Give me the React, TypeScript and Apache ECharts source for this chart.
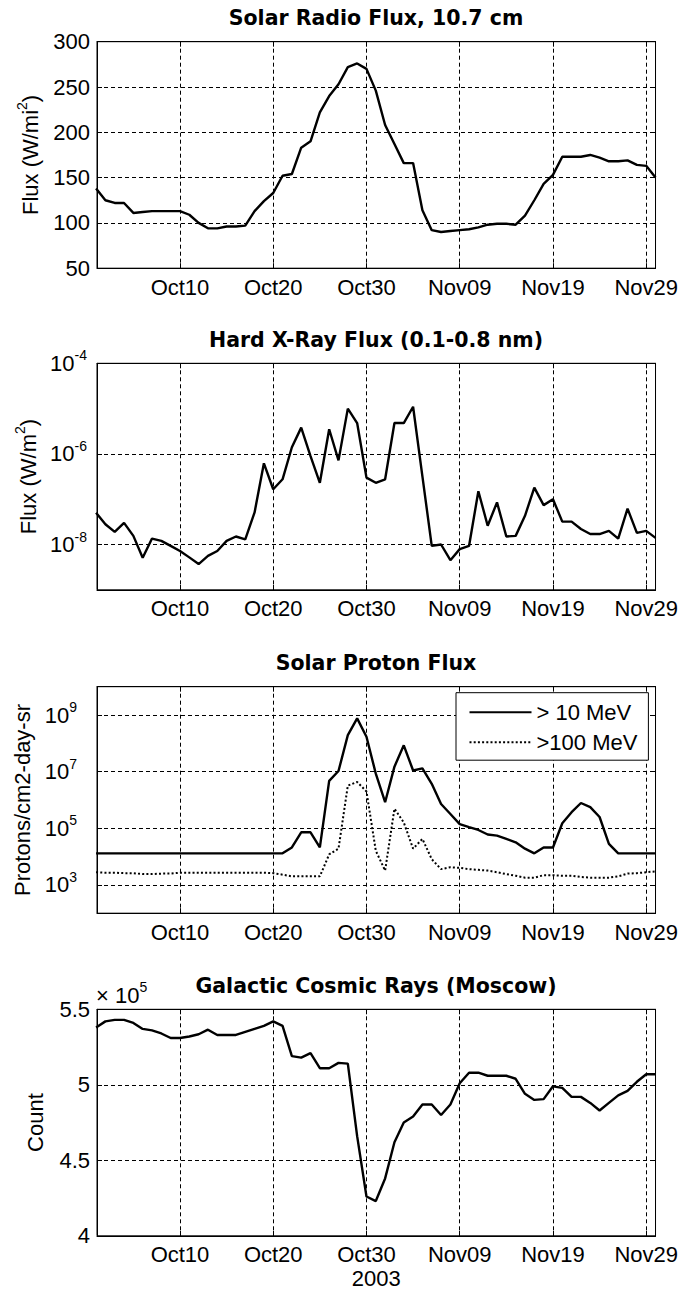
import React, { useEffect, useRef } from 'react';
import * as echarts from 'echarts';

// ---------- data ----------
const xTickValues = [10, 20, 30, 40, 50, 60];
const xTickLabels = ['Oct10', 'Oct20', 'Oct30', 'Nov09', 'Nov19', 'Nov29'];
const xAxisTitle = '2003';

const panelTitles = [
  'Solar Radio Flux, 10.7 cm',
  'Hard X-Ray Flux (0.1-0.8 nm)',
  'Solar Proton Flux',
  'Galactic Cosmic Rays (Moscow)',
];

const seriesNames = ['> 10 MeV', '>100 MeV'];

// day 1 = Oct 01 2003 ... day 61 = Nov 30 2003
const radioFlux = [
  138, 125, 122, 122, 111, 112, 113, 113, 113, 113,
  109, 100, 94, 94, 96, 96, 97, 113, 124, 133,
  152, 154, 183, 190, 222, 240, 253, 272, 276, 270,
  246, 208, 187, 166, 166, 114, 92, 90, 91, 92,
  93, 95, 98, 99, 99, 98, 108, 125, 143, 153,
  173, 173, 173, 175, 172, 168, 168, 169, 164, 163, 150,
];

const xrayFlux = [
  5.0e-8, 2.8e-8, 1.9e-8, 3.0e-8, 1.55e-8, 5.1e-9, 1.35e-8, 1.2e-8, 9.3e-9, 7.2e-9,
  5.2e-9, 3.7e-9, 5.6e-9, 7.2e-9, 1.2e-8, 1.5e-8, 1.3e-8, 5.1e-8, 6.2e-7, 1.66e-7,
  2.75e-7, 1.4e-6, 3.8e-6, 8.9e-7, 2.3e-7, 3.5e-6, 7.2e-7, 1.0e-5, 4.8e-6, 3.0e-7,
  2.3e-7, 2.75e-7, 4.8e-6, 4.8e-6, 1.1e-5, 3.2e-7, 9.3e-9, 1.0e-8, 4.5e-9, 7.9e-9,
  9.3e-9, 1.5e-7, 2.6e-8, 8.5e-8, 1.5e-8, 1.55e-8, 4.3e-8, 1.8e-7, 7.4e-8, 1.0e-7,
  3.2e-8, 3.2e-8, 2.2e-8, 1.7e-8, 1.7e-8, 2.0e-8, 1.35e-8, 6.2e-8, 1.8e-8, 2.0e-8, 1.4e-8,
];

const protonFlux10 = [
  1.3e4, 1.3e4, 1.3e4, 1.3e4, 1.3e4, 1.3e4, 1.3e4, 1.3e4, 1.3e4, 1.3e4,
  1.3e4, 1.3e4, 1.3e4, 1.3e4, 1.3e4, 1.3e4, 1.3e4, 1.3e4, 1.3e4, 1.3e4,
  1.3e4, 2.1e4, 7.2e4, 7.2e4, 2.1e4, 4.7e6, 1.05e7, 1.95e8, 7.6e8, 1.7e8,
  8.5e6, 8.3e5, 1.5e7, 8.5e7, 1.1e7, 1.3e7, 3.7e6, 7.2e5, 3.2e5, 1.4e5,
  1.1e5, 8.7e4, 6.0e4, 5.5e4, 4.2e4, 3.2e4, 1.9e4, 1.3e4, 2.1e4, 2.1e4,
  1.5e5, 3.7e5, 7.8e5, 5.6e5, 2.5e5, 2.8e4, 1.3e4, 1.3e4, 1.3e4, 1.3e4, 1.3e4,
];

const protonFlux100 = [
  2.8e3, 2.7e3, 2.7e3, 2.6e3, 2.6e3, 2.4e3, 2.4e3, 2.5e3, 2.5e3, 2.7e3,
  2.7e3, 2.7e3, 2.7e3, 2.7e3, 2.7e3, 2.7e3, 2.7e3, 2.7e3, 2.7e3, 2.6e3,
  2.3e3, 2.0e3, 2.0e3, 2.0e3, 2.0e3, 1.2e4, 1.9e4, 3.2e6, 4.3e6, 2.0e6,
  1.6e4, 3.2e3, 4.9e5, 1.6e5, 1.9e4, 4.2e4, 8.1e3, 3.6e3, 4.2e3, 4.0e3,
  3.6e3, 3.4e3, 3.2e3, 2.8e3, 2.4e3, 2.1e3, 1.8e3, 1.8e3, 2.2e3, 2.2e3,
  2.1e3, 2.1e3, 1.9e3, 1.8e3, 1.8e3, 1.8e3, 2.0e3, 2.5e3, 2.6e3, 2.8e3, 3.0e3,
];

const cosmicRays = [
  538000, 542000, 543000, 543000, 541000, 537000, 536000, 534000, 531000, 531000,
  532000, 533500, 536500, 533000, 533000, 533000, 535000, 537000, 539000, 542000,
  539000, 519000, 518000, 521000, 511000, 511000, 514500, 514000, 466000, 426000,
  423000, 438000, 462000, 475000, 479000, 487000, 487000, 480000, 487000, 501000,
  508000, 508000, 506000, 506000, 506000, 504000, 494000, 490000, 490500, 499000,
  498000, 492000, 492000, 488000, 483000, 488000, 493000, 496000, 502000, 507000, 507000,
];

const protonTicks = [1e3, 1e5, 1e7, 1e9];

// ---------- layout / style ----------
const FONT = '"Liberation Sans", Arial, Helvetica, sans-serif';
const TITLE_FONT = '"DejaVu Sans", Verdana, sans-serif';
const GRID_LEFT = 97;
const GRID_RIGHT = 22;
const GRID_H = 226.5;
const GRID_TOPS = [41.7, 363.3, 686.7, 1009.3];
const X_MIN = 1.1;
const X_MAX = 61.0;
const TITLE_X = 376;
const LINE_W = 2.4;

const gridLine = { color: '#000', width: 1, type: [4, 3] };
const axisLine = { show: true, onZero: false, lineStyle: { color: '#000', width: 1 } };
const axisTick = { show: true, inside: true, length: 5, lineStyle: { color: '#000', width: 1 } };
const labelBase = { fontSize: 22, fontFamily: FONT, color: '#000' };
const supRich = {
  b: { fontSize: 22, fontFamily: FONT, color: '#000', lineHeight: 30 },
  s: { fontSize: 14, fontFamily: FONT, color: '#000', lineHeight: 14, verticalAlign: 'top' },
};
const nameRich = {
  a: { fontSize: 22, fontFamily: FONT, color: '#000', lineHeight: 30 },
  s: { fontSize: 14, fontFamily: FONT, color: '#000', lineHeight: 14, verticalAlign: 'top' },
};

const toPairs = (vals: number[]) => vals.map((v, i) => [i + 1, v]);

const xLabel = (v: number) => {
  const r = Math.round(v);
  if (Math.abs(v - r) > 1e-6) return '';
  const i = xTickValues.indexOf(r);
  return i >= 0 ? xTickLabels[i] : '';
};

const powLabel = (onlyEven: boolean) => (v: number) => {
  const l = Math.log10(v);
  const e = Math.round(l);
  if (Math.abs(l - e) > 1e-6) return '';
  if (onlyEven && e % 2 !== 0) return '';
  return `{b|10}{s|${e}}`;
};

function makeXAxes(g: number) {
  const common: any = {
    type: 'value',
    gridIndex: g,
    min: X_MIN,
    max: X_MAX,
    minInterval: 10,
    maxInterval: 10,
    axisLine,
    axisTick,
  };
  const bottom: any = {
    ...common,
    position: 'bottom',
    axisLabel: { ...labelBase, margin: 8, formatter: xLabel, showMinLabel: false, showMaxLabel: false },
    splitLine: { show: true, lineStyle: gridLine },
  };
  if (g === 3) {
    bottom.name = xAxisTitle;
    bottom.nameLocation = 'middle';
    bottom.nameGap = 32;
    bottom.nameTextStyle = { ...labelBase };
  }
  const top: any = {
    ...common,
    position: 'top',
    axisLabel: { show: false },
    splitLine: { show: false },
  };
  return [bottom, top];
}

function makeYAxes(g: number, scale: any, label: any, name: string, nameGap: number, rich: boolean) {
  const left: any = {
    ...scale,
    gridIndex: g,
    position: 'left',
    axisLine,
    axisTick: { ...axisTick, ...(scale.customValues ? { customValues: scale.customValues } : {}) },
    axisLabel: { ...labelBase, ...label },
    splitLine: { show: true, lineStyle: gridLine },
    name,
    nameLocation: 'middle',
    nameGap,
    nameTextStyle: rich ? { ...labelBase, rich: nameRich } : { ...labelBase },
  };
  delete left.customValues;
  const right: any = {
    ...scale,
    gridIndex: g,
    position: 'right',
    axisLine,
    axisTick: { ...axisTick, ...(scale.customValues ? { customValues: scale.customValues } : {}) },
    axisLabel: { show: false },
    splitLine: { show: false },
  };
  delete right.customValues;
  return [left, right];
}

function buildOption(): any {
  const grids = GRID_TOPS.map((t) => ({
    left: GRID_LEFT,
    right: GRID_RIGHT,
    top: t,
    height: GRID_H,
    show: true,
    borderColor: '#000',
    borderWidth: 1,
    backgroundColor: '#fff',
    containLabel: false,
  }));

  const xAxes = [0, 1, 2, 3].flatMap((g) => makeXAxes(g));

  const yAxes = [
    ...makeYAxes(
      0,
      { type: 'value', min: 50, max: 300, interval: 50 },
      { margin: 7 },
      '{a|Flux (W/mi}{s|2}{a|)}',
      52,
      true
    ),
    ...makeYAxes(
      1,
      { type: 'log', logBase: 100, min: 1e-9, max: 1e-4 },
      { margin: 10, formatter: powLabel(true), rich: supRich, showMinLabel: false },
      '{a|Flux (W/m}{s|2}{a|)}',
      52,
      true
    ),
    ...makeYAxes(
      2,
      { type: 'log', logBase: 10, min: 1e2, max: 1e10, customValues: protonTicks },
      { margin: 20, formatter: powLabel(false), rich: supRich, customValues: protonTicks },
      'Protons/cm2-day-sr',
      60,
      false
    ),
    ...makeYAxes(
      3,
      { type: 'value', min: 400000, max: 550000, interval: 50000 },
      { margin: 7, formatter: (v: number) => String(Math.round(v / 1e4) / 10) },
      'Count',
      51,
      false
    ),
  ];

  const lineCommon = {
    type: 'line',
    showSymbol: false,
    symbol: 'none',
    clip: true,
    silent: true,
    color: '#000',
  };

  const series = [
    { ...lineCommon, name: 'radio', xAxisIndex: 0, yAxisIndex: 0, data: toPairs(radioFlux), lineStyle: { color: '#000', width: LINE_W } },
    { ...lineCommon, name: 'xray', xAxisIndex: 2, yAxisIndex: 2, data: toPairs(xrayFlux), lineStyle: { color: '#000', width: LINE_W } },
    { ...lineCommon, name: seriesNames[0], xAxisIndex: 4, yAxisIndex: 4, data: toPairs(protonFlux10), lineStyle: { color: '#000', width: LINE_W } },
    { ...lineCommon, name: seriesNames[1], xAxisIndex: 4, yAxisIndex: 4, data: toPairs(protonFlux100), lineStyle: { color: '#000', width: 2, type: [2, 2.2] } },
    { ...lineCommon, name: 'gcr', xAxisIndex: 6, yAxisIndex: 6, data: toPairs(cosmicRays), lineStyle: { color: '#000', width: LINE_W } },
  ];

  const titles = panelTitles.map((t, i) => ({
    text: t,
    left: TITLE_X,
    top: GRID_TOPS[i] - 34,
    textAlign: 'center',
    padding: 0,
    textStyle: { fontFamily: TITLE_FONT, fontWeight: 'bold', fontSize: 20.5, color: '#000' },
  }));

  return {
    animation: false,
    backgroundColor: '#fff',
    title: titles,
    grid: grids,
    xAxis: xAxes,
    yAxis: yAxes,
    series,
    legend: {
      data: seriesNames,
      orient: 'vertical',
      left: 456,
      top: 692.7,
      itemWidth: 62,
      itemHeight: 14,
      itemGap: 8,
      padding: [8.5, 11, 7, 12.5],
      borderColor: '#000',
      borderWidth: 1,
      backgroundColor: '#fff',
      selectedMode: false,
      itemStyle: { opacity: 0 },
      textStyle: { ...labelBase },
    },
    graphic: [
      {
        type: 'text',
        left: 96,
        top: 980,
        style: {
          text: '{b|× 10}{s|5}',
          rich: supRich,
          fill: '#000',
        },
      },
    ],
  };
}

export default function App() {
  const ref = useRef<HTMLDivElement>(null);
  useEffect(() => {
    if (!ref.current) return;
    const chart = echarts.init(ref.current, null, { renderer: 'svg' });
    chart.setOption(buildOption());
    return () => {
      chart.dispose();
    };
  }, []);
  return (
    <div
      ref={ref}
      style={{ position: 'absolute', left: 0, top: 0, width: 681, height: 1296, background: '#fff' }}
    />
  );
}
